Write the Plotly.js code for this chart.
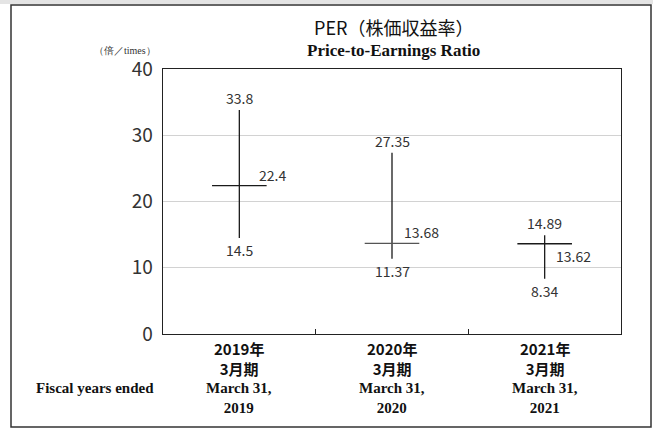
<!DOCTYPE html>
<html><head><meta charset="utf-8">
<script src="https://cdn.plot.ly/plotly-3.0.1.min.js"></script>
<style>html,body{margin:0;padding:0;background:#fff;}#chart{width:653px;height:428px;}</style>
</head><body><div id="chart"></div>
<script>
// ---- data ----
const categories = ['2019', '2020', '2021'];
const highValues = [33.8, 27.35, 14.89];
const avgValues = [22.4, 13.68, 13.62];
const lowValues = [14.5, 11.37, 8.34];
const jpLine1 = ['2019年', '2020年', '2021年'];
const jpLine2 = ['3月期', '3月期', '3月期'];
const enLine1 = ['March 31,', 'March 31,', 'March 31,'];
const enLine2 = ['2019', '2020', '2021'];
const yTickVals = [0, 10, 20, 30, 40];

// ---- layout helpers ----
const W = 653, H = 428;
const M = {l: 163, r: 32, t: 69, b: 94};
const PW = W - M.l - M.r, PH = H - M.t - M.b;
const px = x => (x - M.l) / PW;
const py = y => (H - M.b - y) / PH;
const sans = '"Noto Sans CJK JP", "Noto Sans", sans-serif';
const serif = '"Liberation Serif", "DejaVu Serif", serif';
const numFont = {family: sans, size: 14, color: '#333'};
// avg label placement per category (style, not data)
const avgPlace = [{dx: 18, above: true}, {dx: 10, above: true}, {dx: 9, above: false}];

// vertical range lines (category index positions)
const vx = [], vy = [];
categories.forEach((c, i) => { vx.push(i, i, null); vy.push(lowValues[i], highValues[i], null); });
const idx = categories.map((c, i) => i);

const traces = [
  {type: 'scatter', mode: 'lines', x: vx, y: vy, line: {color: '#1a1a1a', width: 1.3},
   hoverinfo: 'skip', showlegend: false},
  {type: 'scatter', mode: 'markers', x: idx, y: avgValues,
   marker: {symbol: 'line-ew', size: 39, color: '#1a1a1a', line: {color: ['#1a1a1a', '#555', '#1a1a1a'], width: 1.3}},
   hoverinfo: 'skip', showlegend: false}
];

const ann = [];
categories.forEach((c, i) => {
  ann.push({x: i, y: highValues[i], xref: 'x', yref: 'y', text: String(highValues[i]), showarrow: false,
    xanchor: 'center', yanchor: 'bottom', yshift: 0, font: numFont});
  ann.push({x: i, y: lowValues[i], xref: 'x', yref: 'y', text: String(lowValues[i]), showarrow: false,
    xanchor: 'center', yanchor: 'top', yshift: 0, font: numFont});
  const p = avgPlace[i];
  ann.push({x: i, y: avgValues[i], xref: 'x', yref: 'y', text: String(avgValues[i]), showarrow: false,
    xanchor: 'left', yanchor: p.above ? 'bottom' : 'top', xshift: p.dx, yshift: p.above ? -1 : 0, font: numFont});
  // category labels
  ann.push({x: i, y: py(358), xref: 'x', yref: 'paper', text: jpLine1[i] + '<br>' + jpLine2[i], showarrow: false,
    xanchor: 'center', yanchor: 'middle', font: {family: sans, size: 15, color: '#111', weight: 'bold'}});
  ann.push({x: i, y: py(398), xref: 'x', yref: 'paper', text: enLine1[i] + '<br>' + enLine2[i], showarrow: false,
    xanchor: 'center', yanchor: 'middle', font: {family: serif, size: 15, color: '#111', weight: 'bold'}});
});
ann.push({x: px(94.5), y: py(388), xref: 'paper', yref: 'paper', text: 'Fiscal years ended', showarrow: false,
  xanchor: 'center', yanchor: 'middle', font: {family: serif, size: 15, color: '#111', weight: 'bold'}});
ann.push({x: px(393), y: py(27), xref: 'paper', yref: 'paper', text: 'PER（株価収益率）', showarrow: false,
  xanchor: 'center', yanchor: 'middle', font: {family: sans, size: 18, color: '#111'}});
ann.push({x: px(393), y: py(50), xref: 'paper', yref: 'paper', text: 'Price-to-Earnings Ratio', showarrow: false,
  xanchor: 'center', yanchor: 'middle', font: {family: serif, size: 17, color: '#111', weight: 'bold'}});
ann.push({x: px(158), y: py(50), xref: 'paper', yref: 'paper', text: '（倍／times）', showarrow: false,
  xanchor: 'right', yanchor: 'middle', font: {family: serif, size: 10, color: '#333'}});

const layout = {
  width: W, height: H, margin: M,
  paper_bgcolor: '#fff', plot_bgcolor: '#fff',
  showlegend: false,
  xaxis: {type: 'linear', range: [-0.5, 2.5], tickvals: [0.5, 1.5], showticklabels: false, showgrid: false, zeroline: false,
    showline: true, mirror: true, linecolor: '#222', linewidth: 1.3,
    ticks: 'inside', ticklen: 5, tickcolor: '#222', tickwidth: 1},
  yaxis: {range: [0, 40], tickvals: yTickVals, showgrid: true, gridcolor: '#d2d2d2', gridwidth: 1,
    zeroline: false, showline: true, mirror: true, linecolor: '#222', linewidth: 1.3,
    ticks: '', ticklabelstandoff: 5,
    tickfont: {family: sans, size: 19, color: '#333'}},
  annotations: ann,
  shapes: [
    {type: 'rect', xref: 'paper', yref: 'paper', x0: px(0), x1: px(653), y0: py(0), y1: py(4),
     fillcolor: '#e4e4e4', line: {width: 0}, layer: 'below'},
    {type: 'rect', xref: 'paper', yref: 'paper', x0: px(11), x1: px(651), y0: py(427), y1: py(5),
     fillcolor: 'rgba(0,0,0,0)', line: {color: '#333', width: 1.5}, layer: 'below'}
  ]
};

Plotly.newPlot('chart', traces, layout, {staticPlot: true, displayModeBar: false});
</script>
</body></html>
